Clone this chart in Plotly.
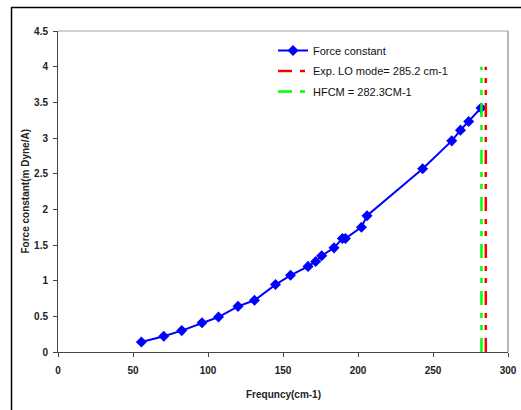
import plotly.graph_objects as go

freq = [55.6, 70.5, 82.5, 96, 107, 120, 131, 145, 155, 166.7, 171.8, 175.8, 184, 189.6, 191.6, 202.3, 206, 243.1, 262.5, 268.3, 273.8, 282]
force = [0.14, 0.22, 0.30, 0.41, 0.49, 0.64, 0.725, 0.945, 1.075, 1.20, 1.27, 1.35, 1.46, 1.59, 1.59, 1.75, 1.91, 2.57, 2.96, 3.11, 3.23, 3.42]

lo_mode = 285.2
hfcm = 282.3
vline_y = [0, 4.0]

x_ticks = [0, 50, 100, 150, 200, 250, 300]
y_ticks = [0, 0.5, 1, 1.5, 2, 2.5, 3, 3.5, 4, 4.5]
y_tick_text = ["0", "0.5", "1", "1.5", "2", "2.5", "3", "3.5", "4", "4.5"]

W, H = 521, 410
L, R, T, B = 58, 13, 31, 58
pw, ph = W - L - R, H - T - B

def px(x):
    return (x - L) / pw

def py(y):
    return (H - B - y) / ph

dash = "14px,8px,5px,7px,5px,8px"

fig = go.Figure()
fig.add_trace(go.Scatter(x=freq, y=force, mode="lines+markers", name="Force constant",
                         legendgroup="a",
                         line=dict(color="#0000FF", width=2),
                         marker=dict(symbol="diamond", size=8.5, color="#0000FF")))
fig.add_trace(go.Scatter(x=[lo_mode, lo_mode], y=vline_y, mode="lines",
                         name="Exp. LO mode= 285.2 cm-1", legendgroup="b",
                         line=dict(color="#FF0000", width=2.5, dash=dash)))
fig.add_trace(go.Scatter(x=[hfcm, hfcm], y=vline_y, mode="lines",
                         name="HFCM = 282.3CM-1", legendgroup="c",
                         line=dict(color="#00FF00", width=2.5, dash=dash)))

axis_font = dict(family="Liberation Sans, Arial", size=10, color="#222", weight="bold")

fig.update_layout(
    width=W, height=H, autosize=False,
    margin=dict(l=L, r=R, t=T, b=B),
    paper_bgcolor="white", plot_bgcolor="white",
    showlegend=True,
    legend=dict(x=px(273), y=py(36), xanchor="left", yanchor="top",
                bgcolor="rgba(0,0,0,0)", font=dict(family="Liberation Sans, Arial", size=11, color="#111"),
                tracegroupgap=1.5, itemwidth=30),
    xaxis=dict(range=[0, 300], tickvals=x_ticks, ticks="outside", ticklen=4, tickcolor="#444",
               showline=True, linecolor="#444", linewidth=1, mirror=False, showgrid=False, zeroline=False,
               tickfont=axis_font, ticklabelstandoff=5, automargin=False),
    yaxis=dict(range=[0, 4.5], tickvals=y_ticks, ticktext=y_tick_text, ticks="outside", ticklen=4,
               tickcolor="#444", showline=True, linecolor="#444", linewidth=1, showgrid=False, zeroline=False,
               tickfont=axis_font, ticklabelstandoff=3, automargin=False),
    annotations=[
        dict(text="Frequncy(cm-1)", xref="paper", yref="paper", x=0.5, y=py(395),
             xanchor="center", yanchor="middle", showarrow=False, font=axis_font),
        dict(text="Force constant(m Dyne/A)", xref="paper", yref="paper", x=px(25), y=0.5,
             xanchor="center", yanchor="middle", showarrow=False, textangle=-90, font=axis_font),
    ],
    shapes=[
        dict(type="line", xref="paper", yref="paper", x0=0, x1=1, y0=1, y1=1, line=dict(color="#A0A0A0", width=1)),
        dict(type="line", xref="paper", yref="paper", x0=1, x1=1, y0=0, y1=1, line=dict(color="#A0A0A0", width=1.5)),
        dict(type="line", xref="paper", yref="paper", x0=px(11), x1=px(521), y0=py(7.5), y1=py(7.5), line=dict(color="#000", width=1.5)),
        dict(type="line", xref="paper", yref="paper", x0=px(11.5), x1=px(11.5), y0=py(7), y1=py(410), line=dict(color="#000", width=1.5)),
    ],
)

fig.write_html("out.html")
